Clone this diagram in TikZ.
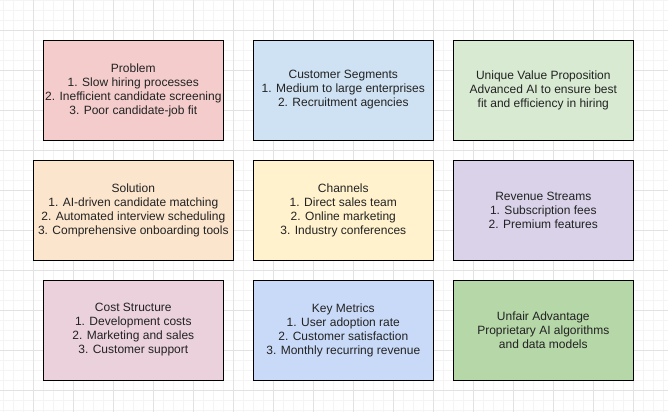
\documentclass[tikz,border=0pt]{standalone}
\usepackage{fontspec}
\setmainfont{Liberation Sans}
\usepackage{tikz}
\definecolor{problemfill}{HTML}{F4CCCC}
\definecolor{segmentfill}{HTML}{CFE2F3}
\definecolor{valuefill}{HTML}{D9EAD3}
\definecolor{solutionfill}{HTML}{FCE5CD}
\definecolor{channelfill}{HTML}{FFF2CC}
\definecolor{revenuefill}{HTML}{D9D2E9}
\definecolor{costfill}{HTML}{EAD1DC}
\definecolor{metricfill}{HTML}{C9DAF8}
\definecolor{advantagefill}{HTML}{B6D7A8}
\definecolor{gridminor}{HTML}{F4F4F4}
\definecolor{gridmajor}{HTML}{E2E2E2}
\definecolor{textgray}{HTML}{222222}
\tikzset{
  canvasbox/.style={draw=black, line width=0.75pt, text=textgray, align=center,
    minimum width=135pt, minimum height=75pt, inner sep=0pt,
    font=\fontsize{9}{10.5}\selectfont},
  widebox/.style={canvasbox, minimum width=150pt}
}

\begin{document}
\begin{tikzpicture}[x=0.75pt, y=-0.75pt]
      \useasboundingbox (0,0) rectangle (668,412);
      \fill[white] (0,0) rectangle (668,412);

      % Grid
      \foreach \gx in {3.3,13.3,...,663.3} \draw[gridminor, line width=0.75pt] (\gx,0) -- (\gx,412);
      \foreach \gy in {0.3,10.3,...,410.3} \draw[gridminor, line width=0.75pt] (0,\gy) -- (668,\gy);
      \foreach \gx in {33.3,73.3,...,663.3} \draw[gridmajor, line width=0.75pt] (\gx,0) -- (\gx,412);
      \foreach \gy in {30.3,70.3,...,410.3} \draw[gridmajor, line width=0.75pt] (0,\gy) -- (668,\gy);

      % Top row
      \node[canvasbox, fill=problemfill] (problem) at (133.3,90)
        {Problem\\1. Slow hiring processes\\2. Inefficient candidate screening\\3. Poor candidate-job fit};
      \node[canvasbox, fill=segmentfill] (segments) at (343.3,90)
        {Customer Segments\\1. Medium to large enterprises\\2. Recruitment agencies};
      \node[canvasbox, fill=valuefill] (value) at (543.3,90)
        {Unique Value Proposition\\Advanced AI to ensure best\\fit and efficiency in hiring};

      % Middle row
      \node[widebox, fill=solutionfill] (solution) at (133.3,210)
        {Solution\\1. AI-driven candidate matching\\2. Automated interview scheduling\\3. Comprehensive onboarding tools};
      \node[canvasbox, fill=channelfill] (channels) at (343.3,210)
        {Channels\\1. Direct sales team\\2. Online marketing\\3. Industry conferences};
      \node[canvasbox, fill=revenuefill] (revenue) at (543.3,210)
        {Revenue Streams\\1. Subscription fees\\2. Premium features};

      % Bottom row
      \node[canvasbox, fill=costfill] (cost) at (133.3,330)
        {Cost Structure\\1. Development costs\\2. Marketing and sales\\3. Customer support};
      \node[canvasbox, fill=metricfill] (metrics) at (343.3,330)
        {Key Metrics\\1. User adoption rate\\2. Customer satisfaction\\3. Monthly recurring revenue};
      \node[canvasbox, fill=advantagefill] (advantage) at (543.3,330)
        {Unfair Advantage\\Proprietary AI algorithms\\and data models};

    \end{tikzpicture}
\end{document}
